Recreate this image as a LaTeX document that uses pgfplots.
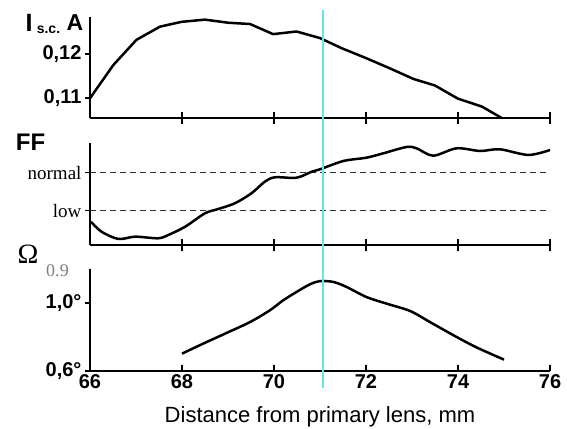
\documentclass[border=0pt]{standalone}
\usepackage{fontspec}
\setmainfont{Liberation Sans}
\newfontfamily\seriffont{Liberation Serif}
\usepackage{pgfplots}
\pgfplotsset{compat=1.18}
\definecolor{markcyan}{RGB}{100,228,240}

\pgfplotsset{
  panel/.style={
    scale only axis, width=460pt, xmin=66, xmax=76,
    axis x line*=bottom, axis y line*=left,
    axis line style={line width=1.4pt,-},
    tick style={line width=1.4pt, black},
    tick align=outside, major tick length=5pt,
    xtick=\empty,
    tick label style={font=\bfseries\fontsize{20}{20}\selectfont},
    clip=false,
  },
  curve/.style={black, line width=2.5pt, line join=round},
  level/.style={dash pattern=on 6pt off 4pt, line width=1.5pt, black!80},
}

\begin{document}
\begin{tikzpicture}
\useasboundingbox (-90pt,0pt) rectangle (477pt,-428pt);

% short-circuit current
\begin{axis}[panel, at={(0pt,-118pt)}, anchor=south west, height=101pt,
  ymin=0.1054, ymax=0.1284, ytick={0.11,0.12}, yticklabels={{0,11},{0,12}},
  extra x ticks={68,70,72,74,76}, extra x tick labels={},
  extra x tick style={tick align=center, major tick length=12pt}]
\addplot[curve] coordinates {
  (66.0,0.1099) (66.51,0.1175) (67.01,0.1232) (67.52,0.1262) (67.99,0.1273)
  (68.5,0.1278) (69.0,0.1271) (69.48,0.1268) (69.98,0.1245) (70.49,0.1251)
  (71.0,0.1236) (71.47,0.1213) (72.01,0.1190) (72.52,0.1167) (73.03,0.1143)
  (73.5,0.1128) (74.0,0.1098) (74.52,0.1080) (74.95,0.1054)};
\end{axis}

% fill factor
\begin{axis}[panel, at={(0pt,-245pt)}, anchor=south west, height=102pt,
  ymin=0.097, ymax=2.781, ytick={1,2}, yticklabels={low,normal},
  yticklabel style={font=\seriffont\fontsize{19}{19}\selectfont},
  extra x ticks={68,70,72,74,76}, extra x tick labels={},
  extra x tick style={tick align=center, major tick length=12pt}]
\addplot[level] coordinates {(66,1) (76,1)};
\addplot[level] coordinates {(66,2) (76,2)};
\addplot[curve, smooth, tension=0.5] coordinates {
  (66.02,0.710) (66.25,0.447) (66.62,0.255) (66.98,0.316) (67.48,0.274)
  (67.70,0.360) (68.07,0.579) (68.5,0.932) (68.79,1.045) (69.15,1.195)
  (69.51,1.458) (69.80,1.763) (70.02,1.879) (70.49,1.868) (70.82,2.026)
  (71.0,2.089) (71.51,2.308) (72.01,2.395) (72.38,2.511) (72.88,2.676)
  (73.1,2.642) (73.46,2.447) (73.97,2.642) (74.48,2.571) (74.91,2.616)
  (75.53,2.466) (76.0,2.597)};
\end{axis}

% angle
\begin{axis}[panel, at={(0pt,-371pt)}, anchor=south west, height=102pt,
  ymin=0.6, ymax=1.2, ytick={0.6,1.0}, yticklabels={{0,6°},{1,0°}},
  extra x ticks={66,68,70,72,74,76}, extra x tick labels={66,68,70,72,74,76},
  extra x tick style={tick align=inside, major tick length=6pt},
  xlabel={Distance from primary lens, mm},
  xlabel style={font=\fontsize{22}{22}\selectfont, anchor=base,
    at={(axis description cs:0.5,-0.5)}}]
\addplot[curve, smooth, tension=0.5] coordinates {
  (68.0,0.702) (68.46,0.761) (68.97,0.824) (69.48,0.888) (69.91,0.957)
  (70.20,1.016) (70.49,1.065) (70.78,1.110) (71.0,1.129) (71.29,1.124)
  (71.58,1.094) (72.01,1.035) (72.45,0.996) (72.96,0.953) (73.39,0.888)
  (73.97,0.800) (74.41,0.738) (75.0,0.667)};
\addplot[markcyan, line width=2pt] coordinates {(71.07,0.498) (71.07,2.722)};
\end{axis}

\node[font=\bfseries\fontsize{25}{25}\selectfont] at (-61pt,-22.5pt) {I};
\node[font=\bfseries\fontsize{14}{14}\selectfont] at (-41.5pt,-30pt) {s.c.};
\node[font=\bfseries\fontsize{23}{23}\selectfont] at (-15pt,-23pt) {A};
\node[font=\bfseries\fontsize{24}{24}\selectfont] at (-59.5pt,-142pt) {FF};
\node[font=\seriffont\fontsize{28}{28}\selectfont] at (-62pt,-254.5pt) {Ω};
\node[font=\seriffont\fontsize{18}{18}\selectfont, text=gray] at (-32.5pt,-271pt) {0.9};
\end{tikzpicture}
\end{document}
